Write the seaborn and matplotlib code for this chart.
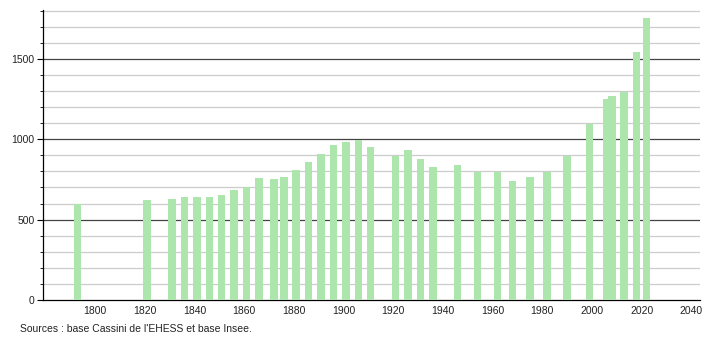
import matplotlib
matplotlib.use("Agg")
import matplotlib.pyplot as plt
from matplotlib.ticker import MultipleLocator
import seaborn as sns
import pandas as pd

years = [1793, 1821, 1831, 1836, 1841, 1846, 1851, 1856, 1861, 1866, 1872, 1876,
         1881, 1886, 1891, 1896, 1901, 1906, 1911, 1921, 1926, 1931, 1936, 1946,
         1954, 1962, 1968, 1975, 1982, 1990, 1999, 2006, 2008, 2013, 2018, 2022]
population = [600, 625, 631, 643, 643, 643, 655, 687, 701, 757, 753, 765,
              809, 858, 906, 964, 983, 995, 952, 898, 931, 875, 826, 840,
              795, 795, 740, 765, 795, 896, 1095, 1251, 1271, 1296, 1545, 1753]
x_ticks = list(range(1800, 2041, 20))
y_major = [0, 500, 1000, 1500]
source_text = "Sources : base Cassini de l'EHESS et base Insee."

df = pd.DataFrame({"year": years, "pop": population})

sns.set_style("white")
plt.rcParams['font.family'] = ['Liberation Sans', 'DejaVu Sans']

fig = plt.figure(figsize=(7.1, 3.4), dpi=100)
ax = fig.add_axes([43 / 710, 1 - 300 / 340, (700 - 43) / 710, 290 / 340])

sns.barplot(data=df, x="year", y="pop", native_scale=True, width=1.5,
            color="#ade6ad", saturation=1, edgecolor="none", ax=ax, zorder=3)

ax.set_xlim(1779.1, 2043.5)
ax.set_ylim(0, 1804)

ax.set_xticks(x_ticks)
ax.set_xticklabels([str(v) for v in x_ticks], fontsize=7.5, color="#222222")
ax.set_yticks(y_major)
ax.set_yticklabels([str(v) for v in y_major], fontsize=7.5, color="#222222")
ax.yaxis.set_minor_locator(MultipleLocator(100))

for v in range(100, 1801, 100):
    if v % 500 == 0:
        ax.axhline(v, color="#444444", lw=0.9, zorder=1)
    else:
        ax.axhline(v, color="#cccccc", lw=0.9, zorder=1)

ax.tick_params(axis="y", which="major", length=4, width=0.8, color="black", pad=2, left=True)
ax.tick_params(axis="y", which="minor", length=2, width=0.6, color="black", left=True)
ax.tick_params(axis="x", which="both", length=0, pad=4)

for s in ["top", "right"]:
    ax.spines[s].set_visible(False)
ax.spines["left"].set_color("black")
ax.spines["bottom"].set_color("black")
ax.spines["left"].set_linewidth(0.9)
ax.spines["bottom"].set_linewidth(0.9)

ax.set_xlabel("")
ax.set_ylabel("")

fig.text(20 / 710, 1 - 329 / 340, source_text, fontsize=7.5, color="#222222",
         ha="left", va="center")

fig.savefig("out.png", dpi=100)
